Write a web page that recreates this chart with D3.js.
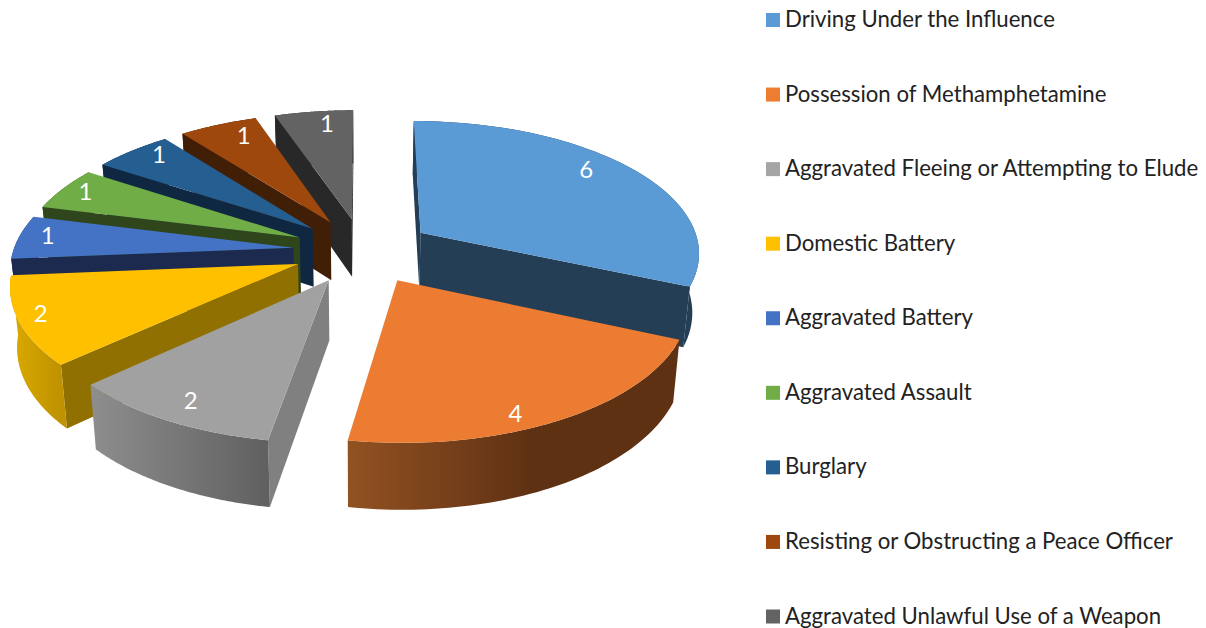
<!DOCTYPE html>
<html><head><meta charset="utf-8">
<script src="https://cdnjs.cloudflare.com/ajax/libs/d3/7.8.5/d3.min.js"></script>
<style>html,body{margin:0;padding:0;background:#fff;overflow:hidden}svg{display:block}</style>
</head><body><svg id="c" width="1206" height="628"></svg>
<script>
const categories=["Driving Under the Influence","Possession of Methamphetamine","Aggravated Fleeing or Attempting to Elude","Domestic Battery","Aggravated Battery","Aggravated Assault","Burglary","Resisting or Obstructing a Peace Officer","Aggravated Unlawful Use of a Weapon"];
const values=[6,4,2,2,1,1,1,1,1];
const topColors=["#5B9BD5","#EB7C31","#A1A1A1","#FFC000","#4472C4","#70AD47","#255E91","#9E480E","#636363"];
const legendColors=["#5B9BD5","#ED7D31","#A5A5A5","#FFC000","#4472C4","#70AD47","#255E91","#9E480E","#636363"];
const faceColors=["#243E56","#5F3113","#808080","#8F7000","#1B2A4E","#2F451C","#0F2740","#401F06","#282828"];
const rimLeft=["#243E56","#925222","#8E8E8E","#DCAA00","#1B2A4E","#2F451C","#0F2740","#401F06","#282828"];
const rimRight=["#243E56","#5F3113","#606060","#BE9200","#1B2A4E","#2F451C","#0F2740","#401F06","#282828"];
const labelRadius=[.85,.91,.87,.92,.9,.91,.9,.86,.87];
const labelTurn=[-5.8,6,0,1.5,1.5,1,3.3,3.3,2.4];
const drawOrder=[8,7,6,5,4,3,2,0,1];

const cx=363,cy=250.5,Rx=280,Ry=131.5,persp=.136,explode=.25;
const svg=d3.select("#c"),defs=svg.append("defs");
const arcs=d3.pie().sort(null).startAngle(0).endAngle(2*Math.PI)(values);
const line=d3.line().curve(d3.curveLinear);

function project(X,Y,low){
  const s=1/(1+persp*Y);
  let x=cx+Rx*X*s,y=cy-Ry*Y*s;
  if(low){x=cx+(x-cx)*.98;y+=19+40*s;}
  return [x,y];
}
function polar(d,r,a,low){
  const m=(d.startAngle+d.endAngle)/2;
  return project(explode*Math.sin(m)+r*Math.sin(a),explode*Math.cos(m)+r*Math.cos(a),low);
}

const chart=svg.append("g");
drawOrder.forEach(i=>{
  const d=arcs[i],angs=d3.range(0,61).map(k=>d.startAngle+(d.endAngle-d.startAngle)*k/60);
  const g=chart.append("g");
  const topArc=angs.map(a=>polar(d,1,a,false)),lowArc=angs.map(a=>polar(d,1,a,true));
  const ap=polar(d,0,0,false),apL=polar(d,0,0,true);
  const xs=topArc.map(p=>p[0]),x0=d3.min(xs),x1=d3.max(xs);
  const gid="rim"+i,gr=defs.append("linearGradient").attr("id",gid).attr("gradientUnits","userSpaceOnUse")
    .attr("x1",x0).attr("x2",x1).attr("y1",0).attr("y2",0);
  gr.append("stop").attr("offset","0%").attr("stop-color",rimLeft[i]);
  gr.append("stop").attr("offset",i===1?"55%":"100%").attr("stop-color",rimRight[i]);
  const wallStart=[ap,topArc[0],lowArc[0],apL],wallEnd=[ap,apL,lowArc[60],topArc[60]];
  [wallStart,wallEnd].forEach(w=>{
    if(d3.polygonArea(w)>0) g.append("path").attr("d",line(w)+"Z").attr("fill",faceColors[i]);
  });
  g.append("path").attr("d",line(topArc.concat(lowArc.slice().reverse()))+"Z").attr("fill",`url(#${gid})`);
  g.append("path").attr("d",line([ap].concat(topArc))+"Z").attr("fill",topColors[i]);
});
arcs.forEach((d,i)=>{
  const m=(d.startAngle+d.endAngle)/2+labelTurn[i]*Math.PI/180;
  const mid=(d.startAngle+d.endAngle)/2;
  const X=explode*Math.sin(mid)+labelRadius[i]*Math.sin(m),Y=explode*Math.cos(mid)+labelRadius[i]*Math.cos(m);
  const p=project(X,Y,false);
  chart.append("text").attr("x",p[0]).attr("y",p[1]).attr("dy","0.36em").attr("text-anchor","middle")
    .attr("font-family","Lato, 'Open Sans', sans-serif").attr("font-size",24).attr("fill","#fff").text(values[i]);
});
const ly=d3.scalePoint().domain(categories).range([20,616.5]);
const legend=svg.append("g").selectAll("g").data(categories).join("g").attr("transform",c=>`translate(0,${ly(c)})`);
legend.append("rect").attr("x",766).attr("y",-7).attr("width",14).attr("height",14).attr("fill",(c,i)=>legendColors[i]);
legend.append("text").attr("x",785).attr("y",0).attr("dy","0.32em")
  .attr("font-family","Lato, 'Open Sans', sans-serif").attr("font-size",22.2).attr("fill","#222").text(c=>c);
</script></body></html>
